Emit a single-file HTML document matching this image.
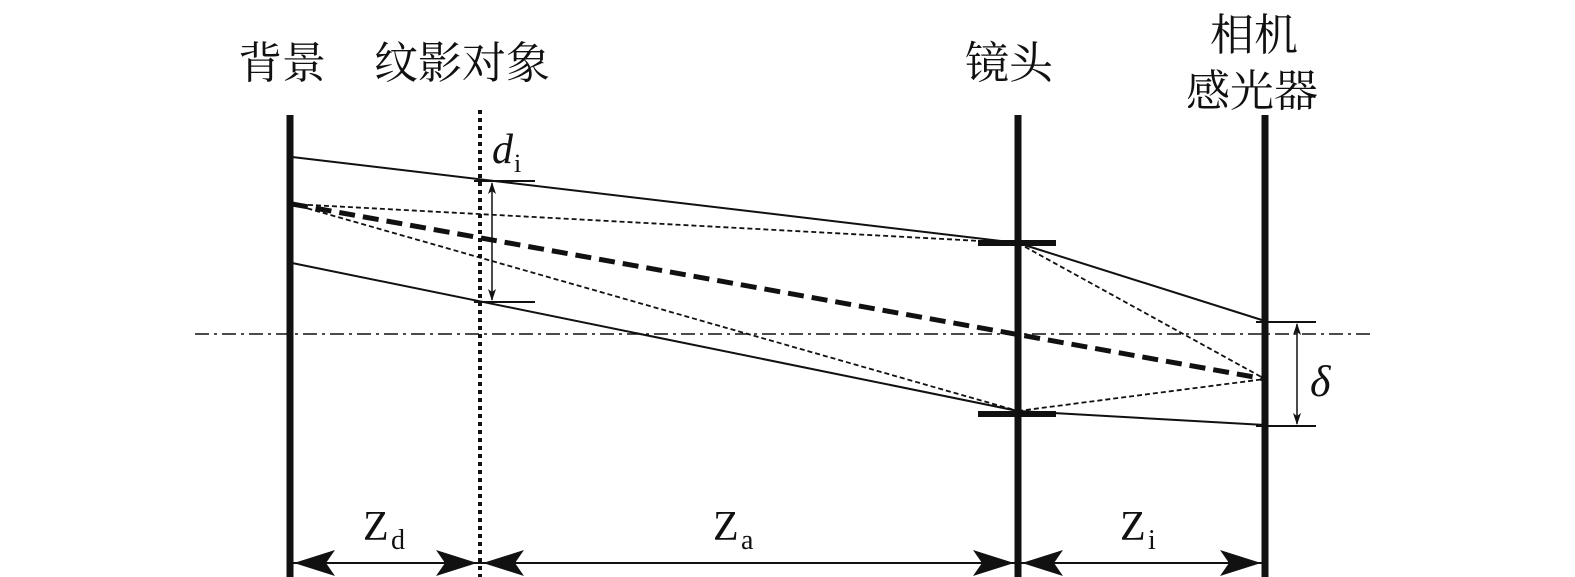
<!DOCTYPE html>
<html><head><meta charset="utf-8"><style>
html,body{margin:0;padding:0;background:#fff;}
svg{display:block;}
text{font-family:"Liberation Serif","Noto Serif CJK SC",serif;fill:#111;}
.cjk{font-family:"Liberation Serif","Noto Serif CJK SC",serif;font-size:44px;}
</style></head><body>
<svg width="1575" height="577" viewBox="0 0 1575 577" xmlns="http://www.w3.org/2000/svg">
<defs>
<marker id="ah" markerWidth="12" markerHeight="8" refX="11" refY="4" orient="auto" markerUnits="userSpaceOnUse" viewBox="0 0 12 8">
<path d="M0,0 L12,4 L0,8 L3,4 Z" fill="#111"/></marker>
</defs>
<text class="cjk" x="238" y="78">背景</text>
<text class="cjk" x="374" y="78">纹影对象</text>
<text class="cjk" x="965" y="78">镜头</text>
<text class="cjk" x="1210" y="50">相机</text>
<text class="cjk" x="1186" y="106">感光器</text>
<line x1="195" y1="334" x2="1372" y2="334" stroke="#111" stroke-width="1.5" stroke-dasharray="14,5,3,5"/>
<line x1="290" y1="115" x2="290" y2="577" stroke="#111" stroke-width="7"/>
<line x1="1018" y1="115" x2="1018" y2="577" stroke="#111" stroke-width="7"/>
<line x1="1265" y1="115" x2="1265" y2="577" stroke="#111" stroke-width="7"/>
<line x1="480" y1="110" x2="480" y2="577" stroke="#111" stroke-width="4" stroke-dasharray="4,4"/>
<line x1="978" y1="243" x2="1056" y2="243" stroke="#111" stroke-width="6"/>
<line x1="978" y1="414" x2="1056" y2="414" stroke="#111" stroke-width="6"/>
<polyline points="292,157 1018,243 1265,321" fill="none" stroke="#111" stroke-width="2"/>
<polyline points="292,263 1018,411 1265,425" fill="none" stroke="#111" stroke-width="2"/>
<g stroke="#111" stroke-width="1.8" stroke-dasharray="5,3" fill="none">
<line x1="292" y1="204" x2="1018" y2="243"/>
<line x1="292" y1="204" x2="1018" y2="411"/>
<line x1="1018" y1="243" x2="1265" y2="379"/>
<line x1="1018" y1="411" x2="1265" y2="379"/>
</g>
<line x1="292" y1="204" x2="1265" y2="379" stroke="#111" stroke-width="5" stroke-dasharray="16,8"/>
<line x1="474" y1="181" x2="535" y2="181" stroke="#111" stroke-width="2"/>
<line x1="474" y1="302" x2="535" y2="302" stroke="#111" stroke-width="2"/>
<line x1="492" y1="241" x2="492" y2="183" stroke="#111" stroke-width="1.5" marker-end="url(#ah)"/>
<line x1="492" y1="241" x2="492" y2="300" stroke="#111" stroke-width="1.5" marker-end="url(#ah)"/>
<text x="492" y="163" font-size="42" font-style="italic">d</text>
<text x="514" y="172" font-size="26">i</text>
<line x1="1256" y1="322" x2="1316" y2="322" stroke="#111" stroke-width="2"/>
<line x1="1256" y1="426" x2="1316" y2="426" stroke="#111" stroke-width="2"/>
<line x1="1297" y1="374" x2="1297" y2="324" stroke="#111" stroke-width="1.5" marker-end="url(#ah)"/>
<line x1="1297" y1="374" x2="1297" y2="424" stroke="#111" stroke-width="1.5" marker-end="url(#ah)"/>
<text x="1310" y="396" font-size="44" font-style="italic">δ</text>
<g fill="#111">
<line x1="293" y1="563" x2="1262" y2="563" stroke="#111" stroke-width="2"/>
<path d="M294,563 L335,550 L326,563 L335,576 Z"/>
<path d="M477,563 L436,550 L445,563 L436,576 Z"/>
<path d="M483,563 L524,550 L515,563 L524,576 Z"/>
<path d="M1014,563 L973,550 L982,563 L973,576 Z"/>
<path d="M1022,563 L1063,550 L1054,563 L1063,576 Z"/>
<path d="M1261,563 L1220,550 L1229,563 L1220,576 Z"/>
</g>
<text x="363" y="540" font-size="42">Z</text><text x="391" y="549" font-size="28">d</text>
<text x="713" y="540" font-size="42">Z</text><text x="741" y="549" font-size="28">a</text>
<text x="1120" y="540" font-size="42">Z</text><text x="1148" y="549" font-size="28">i</text>
</svg>
</body></html>
